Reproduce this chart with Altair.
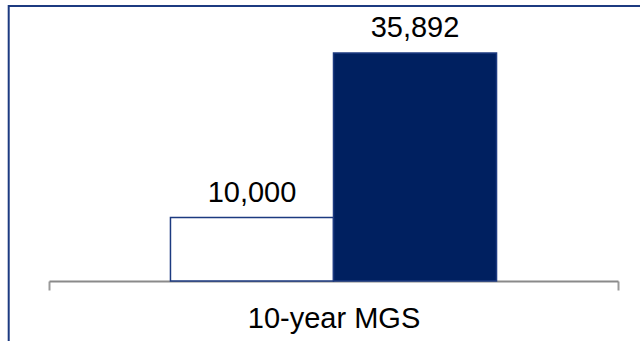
import altair as alt
import pandas as pd

# Chart data
categories = ["10-year MGS", "10-year MGS"]
series = ["Initial amount", "Value after 10 years"]
values = [10000, 35892]

df = pd.DataFrame({"category": categories, "series": series, "value": values})

FONT = "Liberation Sans"
NAVY = "#002060"
EDGE = "#1c3a80"

x_enc = alt.X(
    "category:N",
    title=None,
    scale=alt.Scale(paddingInner=0, paddingOuter=0),
    axis=alt.Axis(
        labelAngle=0,
        labelFont=FONT,
        labelFontSize=29,
        labelColor="black",
        labelPadding=14,
        domainColor="#8a8a8a",
        domainWidth=2,
        tickColor="#9a9a9a",
        tickWidth=2,
        tickSize=9,
        tickBand="extent",
        grid=False,
    ),
)
xoff_enc = alt.XOffset(
    "series:N",
    sort=series,
    scale=alt.Scale(paddingInner=0, paddingOuter=0.745),
)
y_enc = alt.Y(
    "value:Q",
    scale=alt.Scale(domain=[0, 40000], nice=False),
    axis=None,
)

base = alt.Chart(df)

bars = base.mark_bar(stroke=EDGE, strokeWidth=1.5, opacity=1).encode(
    x=x_enc,
    xOffset=xoff_enc,
    y=y_enc,
    fill=alt.Fill(
        "series:N",
        sort=series,
        scale=alt.Scale(domain=series, range=["white", NAVY]),
        legend=None,
    ),
)

labels = base.mark_text(
    font=FONT, fontSize=29, color="black", baseline="alphabetic", dy=-16
).encode(
    x=x_enc,
    xOffset=xoff_enc,
    y=y_enc,
    text=alt.Text("value:Q", format=","),
)

# Outer frame around the figure
frame = alt.Chart(alt.Data(values=[{}])).mark_rect(
    fillOpacity=0, stroke=EDGE, strokeWidth=2
).encode(
    x=alt.value(-40.3),
    y=alt.value(-21),
    x2=alt.value(700),
    y2=alt.value(400),
)

chart = (
    alt.layer(frame, bars, labels)
    .properties(
        width=569,
        height=254,
        padding={"left": 49, "top": 27, "right": 22, "bottom": 60},
        autosize=alt.AutoSizeParams(type="none"),
        background="white",
    )
    .configure_view(stroke=None)
)

chart.save("out.html", embed_options={"renderer": "svg", "actions": False})
